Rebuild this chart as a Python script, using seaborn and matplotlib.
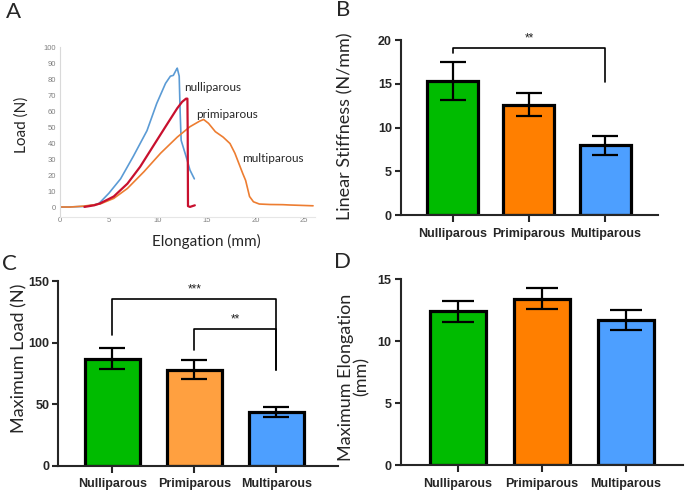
import seaborn as sns
import matplotlib.pyplot as plt

# bar panels (mean, error)
groups = ['Nulliparous', 'Primiparous', 'Multiparous']
stiffness_mean = [15.3, 12.6, 8.0]
stiffness_err = [2.2, 1.3, 1.1]
load_mean = [87.0, 78.0, 43.5]
load_err = [8.5, 7.6, 4.0]
elong_mean = [12.4, 13.4, 11.7]
elong_err = [0.85, 0.85, 0.8]

# representative load-elongation curves (panel A)
nulli_x = [0, 2.5, 3.5, 4.0, 5.0, 6.2, 7.5, 8.9, 9.9, 10.8, 11.3, 11.6, 11.9, 12.0, 12.2, 12.3, 12.4, 12.6, 13.0, 13.3, 13.75]
nulli_y = [0.3, 0.8, 1.8, 2.7, 9, 18, 32, 48, 65, 77.5, 82, 82.5, 86, 87, 82, 59, 42, 38, 30, 23.5, 18]
prim_x = [2.5, 3.5, 4.1, 5.5, 6.9, 8.2, 9.6, 10.9, 12.0, 12.5, 12.9, 13.04, 13.07, 13.1, 13.3, 13.8]
prim_y = [0.5, 1.5, 2.7, 7, 15, 25.5, 39, 51.5, 62, 66, 68, 68, 48, 1, 0.5, 1.5]
multi_x = [0, 1.0, 2.4, 4.1, 5.5, 6.9, 8.6, 10.3, 12.0, 13.3, 14.3, 14.7, 15.2, 15.9, 16.7, 17.4, 17.9,
           18.7, 19.0, 19.4, 19.8, 20.4, 21.5, 22.8, 23.5, 25.9]
multi_y = [0.5, 0.4, 1.0, 2.3, 5.8, 12, 22.5, 34, 44, 50.5, 54, 55, 52.6, 47.4, 44, 40, 34,
           21.4, 17, 7, 3.7, 2.3, 2.0, 1.9, 1.7, 1.2]

# significance brackets: (left group, right group, height, left leg end, right leg end, label)
brackets_b = [(0, 2, 19.05, 18.5, 15.2, '**')]
brackets_c = [(0, 2, 135, 106, 77.7, '***'), (1, 2, 110.8, 94, 77.7, '**')]

sns.set_style('ticks')
plt.rcParams['font.family'] = ['Liberation Sans', 'DejaVu Sans']
LABEL_FONT = 'Lato'

W, H = 685, 490
fig = plt.figure(figsize=(W / 100, H / 100), dpi=100)


def rect(left, right, top, bottom):
    return [left / W, 1 - bottom / H, (right - left) / W, (bottom - top) / H]


def bar_panel(ax, means, errs, colors, ylim, yticks, capsize, brackets=()):
    sns.barplot(x=groups, y=means, hue=groups, palette=colors, legend=False, saturation=1,
                width=0.67, edgecolor='black', linewidth=2.3, errorbar=None, ax=ax)
    ax.errorbar(range(len(groups)), means, yerr=errs, fmt='none', ecolor='black',
                elinewidth=1.6, capsize=capsize, capthick=1.6, zorder=5)
    for a, b, h, la, lb, txt in brackets:
        ax.plot([a, a, b, b], [la, h, h, lb], color='black', lw=1.2, clip_on=False)
        ax.text((a + b) / 2, h + ylim[1] * 0.02, txt, ha='center', va='bottom',
                fontsize=8.5, color='#222222')
    ax.set_ylim(*ylim)
    ax.set_yticks(yticks)
    sns.despine(ax=ax)
    for s in ('left', 'bottom'):
        ax.spines[s].set_linewidth(1.5)
    ax.tick_params(axis='both', width=1.5, length=4, pad=2.5, labelsize=9)
    ax.tick_params(axis='x', length=5, pad=4)
    for lab in ax.get_xticklabels() + ax.get_yticklabels():
        lab.set_fontweight('bold')
    ax.set_xlabel('')


green = '#00BB00'
blue = '#4D9FFF'

# Panel A
axA = fig.add_axes(rect(60, 315, 47.3, 216.7))
sns.lineplot(x=nulli_x, y=nulli_y, sort=False, estimator=None, color='#5B9BD5', lw=1.2, ax=axA)
sns.lineplot(x=multi_x, y=multi_y, sort=False, estimator=None, color='#ED7D31', lw=1.2, ax=axA)
sns.lineplot(x=prim_x, y=prim_y, sort=False, estimator=None, color='#C8102E', lw=1.6, ax=axA)
axA.set_xlim(0, 26.1)
axA.set_ylim(-5.6, 100)
axA.set_xticks(range(0, 26, 5))
axA.set_yticks(range(0, 101, 10))
sns.despine(ax=axA)
axA.spines['left'].set_color('#d9d9d9')
axA.spines['bottom'].set_color('#e6e6e6')
axA.tick_params(length=0, labelsize=5.5, labelcolor='#808080', pad=3)
axA.tick_params(axis='x', pad=0.5)
axA.text(12.74, 75.2, 'nulliparous', fontsize=8.5, family=LABEL_FONT, va='center')
axA.text(13.97, 58.4, 'primiparous', fontsize=8.5, family=LABEL_FONT, va='center')
axA.text(18.65, 30.4, 'multiparous', fontsize=8.5, family=LABEL_FONT, va='center')
axA.set_ylabel('Load (N)', family=LABEL_FONT, fontsize=11, va='center')
axA.yaxis.set_label_coords(-0.149, 0.541)
axA.set_xlabel('Elongation (mm)', family=LABEL_FONT, fontsize=11, va='center')
axA.xaxis.set_label_coords(0.573, -0.149)

# Panel B
axB = fig.add_axes(rect(401, 657.7, 40, 215.3))
bar_panel(axB, stiffness_mean, stiffness_err, [green, '#FF7F00', blue], (0, 20),
          [0, 5, 10, 15, 20], 9.4, brackets_b)
axB.set_xlim(-0.68, 2.69)
axB.set_ylabel('Linear Stiffness (N/mm)', family=LABEL_FONT, fontsize=13, va='center')
axB.yaxis.set_label_coords(-0.218, 0.509)

# Panel C
axC = fig.add_axes(rect(58.3, 338, 281, 465.7))
bar_panel(axC, load_mean, load_err, [green, '#FFA040', blue], (0, 150),
          [0, 50, 100, 150], 9.7, brackets_c)
axC.set_xlim(-0.66, 2.75)
axC.set_ylabel('Maximum Load (N)', family=LABEL_FONT, fontsize=13, va='center')
axC.yaxis.set_label_coords(-0.14, 0.583)

# Panel D
axD = fig.add_axes(rect(400.7, 683, 279, 465.3))
bar_panel(axD, elong_mean, elong_err, [green, '#FF7F00', blue], (0, 15),
          [0, 5, 10, 15], 11.5)
axD.set_xlim(-0.68, 2.68)
axD.set_ylabel('Maximum Elongation\n(mm)', family=LABEL_FONT, fontsize=13, va='center',
               linespacing=1.0)
axD.yaxis.set_label_coords(-0.165, 0.474)

for letter, (px, py) in {'A': (14, 12.5), 'B': (343, 10.5), 'C': (9, 263.5), 'D': (343, 262)}.items():
    fig.text(px / W, 1 - py / H, letter, family=LABEL_FONT, fontsize=16, ha='center', va='center')

fig.savefig('out.png', dpi=100)
